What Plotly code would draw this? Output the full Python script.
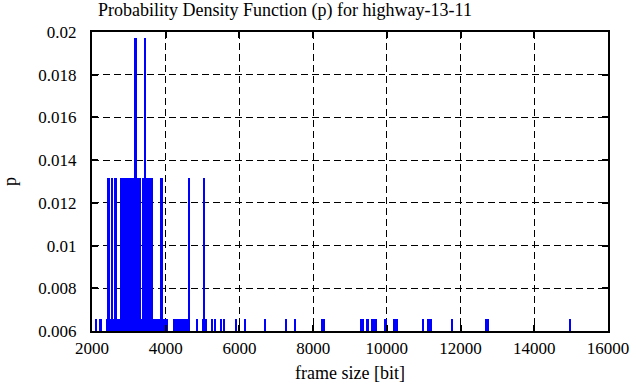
import plotly.graph_objects as go

# frame sizes [bit] of the impulses and their probability density
size_p3 = [3181, 3445]
size_p2 = [2451, 2541, 2633, 2790, 2850, 2910, 2970, 3030, 3090, 3135, 3230,
           3310, 3400, 3490, 3550, 3610, 3890, 4640, 5046]
size_p1 = [2108, 2230, 2410, 2495, 2590, 2700, 2740, 3270, 3355, 3660, 3720,
           3780, 3840, 3950, 4020, 4241, 4298, 4357, 4416, 4487, 4560, 4844,
           5006, 5100, 5263, 5344, 5506, 5573, 5906, 6149, 6690, 7258, 7501,
           8250, 8300, 9310, 9360, 9474, 9615, 9690, 9960, 10200, 10260,
           10985, 11110, 11180, 11771, 12700, 12750, 14961]
p_levels = [0.00658, 0.01316, 0.01974]

x_ticks = [2000, 4000, 6000, 8000, 10000, 12000, 14000, 16000]
x_ticktext = ["2000", "4000", "6000", "8000", "10000", "12000", "14000", "16000"]
y_ticks = [0.006, 0.008, 0.01, 0.012, 0.014, 0.016, 0.018, 0.02]
y_ticktext = ["0.006", "0.008", "0.01", "0.012", "0.014", "0.016", "0.018", "0.02"]

xs = size_p1 + size_p2 + size_p3
ys = [p_levels[0]] * len(size_p1) + [p_levels[1]] * len(size_p2) + [p_levels[2]] * len(size_p3)

FONT = "Liberation Serif"

fig = go.Figure()
fig.add_trace(go.Bar(x=xs, y=ys, width=64, marker=dict(color="#0000ff", line=dict(width=0)),
                     showlegend=False, hoverinfo="skip"))

axis_common = dict(
    showline=True, linecolor="black", linewidth=2, mirror="allticks",
    ticks="inside", ticklen=6, tickwidth=2, tickcolor="black",
    showgrid=True, gridcolor="black", gridwidth=1.3, griddash="7px,4px",
    zeroline=False, automargin=False,
    tickfont=dict(family=FONT, size=17, color="black"),
)

fig.update_xaxes(range=[2000, 16000], tickvals=x_ticks, ticktext=x_ticktext, ticklabelstandoff=1,
                 title=dict(text="frame size [bit]", font=dict(family=FONT, size=18, color="black"), standoff=9),
                 **axis_common)
fig.update_yaxes(range=[0.006, 0.02], tickvals=y_ticks, ticktext=y_ticktext, ticklabelstandoff=10,
                 title=dict(text="p", font=dict(family=FONT, size=18, color="black"), standoff=22),
                 **axis_common)

fig.update_layout(
    width=636, height=387,
    margin=dict(l=92, r=28, t=32, b=56),
    plot_bgcolor="white", paper_bgcolor="white",
    bargap=0,
    title=dict(text="Probability Density Function (p) for highway-13-11",
               font=dict(family=FONT, size=18, color="black"),
               x=285 / 636, xanchor="center", xref="container",
               y=0.99, yanchor="top", yref="container"),
)

fig.write_html("out.html", config={"displayModeBar": False},
               post_script="document.body.style.margin='0';")
